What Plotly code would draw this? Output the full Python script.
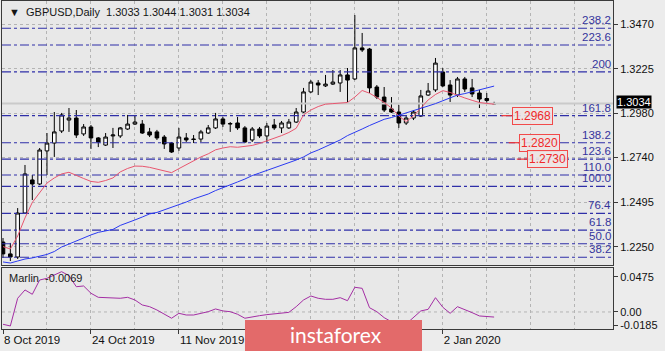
import plotly.graph_objects as go
import pandas as pd

# ---------------- data ----------------
days = pd.bdate_range("2019-10-08", "2020-01-13")
dates = [d for d in days if d.strftime("%m-%d") not in ("12-25", "01-01")]

opens = [1.2276, 1.2211, 1.2194, 1.2435, 1.2616, 1.2594, 1.2775, 1.2818, 1.2884, 1.2944,
         1.2955, 1.2868, 1.2906, 1.2846, 1.2807, 1.2857, 1.2857, 1.2895, 1.2922, 1.2922,
         1.2879, 1.2879, 1.2851, 1.2818, 1.2791, 1.2846, 1.2840, 1.2840, 1.2873, 1.2901,
         1.2950, 1.2922, 1.2928, 1.2901, 1.2835, 1.2895, 1.2857, 1.2917, 1.2901, 1.2901,
         1.2933, 1.2988, 1.3098, 1.3147, 1.3131, 1.3141, 1.3147, 1.3191, 1.3169, 1.3339,
         1.3333, 1.3125, 1.3070, 1.3005, 1.2988, 1.2928, 1.2955, 1.2966, 1.3081, 1.3109,
         1.3207, 1.3136, 1.3081, 1.3169, 1.3120, 1.3092, 1.3062, 1.3033]
highs = [1.2298, 1.2271, 1.2462, 1.2698, 1.2643, 1.2791, 1.2873, 1.2988, 1.2983, 1.3010,
         1.2999, 1.2922, 1.2917, 1.2851, 1.2873, 1.2901, 1.2906, 1.2972, 1.2972, 1.2944,
         1.2901, 1.2890, 1.2862, 1.2824, 1.2901, 1.2873, 1.2862, 1.2890, 1.2917, 1.2983,
         1.2961, 1.2933, 1.2961, 1.2911, 1.2906, 1.2906, 1.2928, 1.2950, 1.2939, 1.2950,
         1.3010, 1.3120, 1.3163, 1.3163, 1.3191, 1.3218, 1.3218, 1.3229, 1.3519, 1.3421,
         1.3339, 1.3136, 1.3125, 1.3070, 1.3026, 1.2966, 1.2999, 1.3109, 1.3147, 1.3284,
         1.3229, 1.3163, 1.3180, 1.3180, 1.3169, 1.3109, 1.3092, 1.3044]
lows = [1.2189, 1.2172, 1.2183, 1.2430, 1.2506, 1.2588, 1.2643, 1.2742, 1.2873, 1.2879,
        1.2846, 1.2857, 1.2786, 1.2796, 1.2802, 1.2791, 1.2846, 1.2890, 1.2917, 1.2868,
        1.2851, 1.2835, 1.2786, 1.2764, 1.2775, 1.2824, 1.2818, 1.2824, 1.2868, 1.2895,
        1.2906, 1.2879, 1.2890, 1.2818, 1.2824, 1.2846, 1.2824, 1.2890, 1.2873, 1.2895,
        1.2928, 1.2983, 1.3092, 1.3081, 1.3125, 1.3136, 1.3098, 1.3043, 1.3163, 1.3317,
        1.3092, 1.3059, 1.2988, 1.2983, 1.2901, 1.2917, 1.2944, 1.2961, 1.3076, 1.3098,
        1.3125, 1.3043, 1.3070, 1.3098, 1.3070, 1.3010, 1.3037, 1.3031]
closes = [1.2211, 1.2194, 1.2435, 1.2649, 1.2594, 1.2780, 1.2818, 1.2879, 1.2972, 1.2955,
          1.2862, 1.2906, 1.2846, 1.2824, 1.2851, 1.2862, 1.2901, 1.2922, 1.2933, 1.2873,
          1.2862, 1.2846, 1.2813, 1.2769, 1.2851, 1.2835, 1.2838, 1.2879, 1.2901, 1.2950,
          1.2922, 1.2925, 1.2901, 1.2824, 1.2895, 1.2857, 1.2911, 1.2901, 1.2928, 1.2933,
          1.2988, 1.3098, 1.3152, 1.3136, 1.3141, 1.3152, 1.3191, 1.3163, 1.3339, 1.3328,
          1.3120, 1.3070, 1.2999, 1.2988, 1.2928, 1.2955, 1.2988, 1.3076, 1.3103, 1.3256,
          1.3131, 1.3081, 1.3169, 1.3114, 1.3087, 1.3059, 1.3051, 1.3034]

ma_fast = [1.2251, 1.2238, 1.2309, 1.2408, 1.2493, 1.2547, 1.2599, 1.2627, 1.2649, 1.2658,
           1.2643, 1.2624, 1.2608, 1.2603, 1.2613, 1.2627, 1.2660, 1.2679, 1.2692, 1.2691,
           1.2685, 1.2676, 1.2665, 1.2656, 1.2678, 1.2700, 1.2722, 1.2742, 1.2759, 1.2781,
           1.2791, 1.2798, 1.2795, 1.2798, 1.2805, 1.2816, 1.2829, 1.2843, 1.2859, 1.2876,
           1.2899, 1.2972, 1.2999, 1.3018, 1.3031, 1.3034, 1.3037, 1.3040, 1.3070, 1.3106,
           1.3091, 1.3068, 1.3040, 1.3010, 1.2966, 1.2936, 1.2966, 1.3013, 1.3054, 1.3084,
           1.3105, 1.3095, 1.3079, 1.3065, 1.3052, 1.3040, 1.3035, 1.3031]
ma_slow = [1.2167, 1.2161, 1.2172, 1.2183, 1.2189, 1.2200, 1.2208, 1.2224, 1.2249, 1.2265,
           1.2283, 1.2298, 1.2315, 1.2329, 1.2335, 1.2345, 1.2367, 1.2380, 1.2397, 1.2413,
           1.2430, 1.2438, 1.2452, 1.2465, 1.2479, 1.2495, 1.2512, 1.2525, 1.2539, 1.2558,
           1.2575, 1.2588, 1.2605, 1.2621, 1.2640, 1.2654, 1.2668, 1.2682, 1.2695, 1.2709,
           1.2725, 1.2742, 1.2764, 1.2780, 1.2797, 1.2816, 1.2835, 1.2859, 1.2879, 1.2895,
           1.2914, 1.2931, 1.2948, 1.2958, 1.2970, 1.2983, 1.2994, 1.3005, 1.3021, 1.3034,
           1.3051, 1.3067, 1.3081, 1.3089, 1.3100, 1.3111, 1.3122, 1.3130]
marlin = [-0.0167, -0.0190, 0.0186, 0.0299, 0.0240, 0.0434, 0.0457, 0.0502, 0.0547, 0.0493,
          0.0343, 0.0353, 0.0254, 0.0199, 0.0194, 0.0186, 0.0186, 0.0199, 0.0163, 0.0095,
          0.0072, 0.0027, -0.0031, -0.0085, -0.0018, -0.0041, -0.0041, -0.0018, 0.0004, 0.0041,
          0.0014, 0.0004, -0.0031, -0.0085, -0.0064, -0.0050, -0.0036, -0.0027, -0.0023, -0.0005,
          0.0072, 0.0163, 0.0217, 0.0186, 0.0172, 0.0172, 0.0194, 0.0153, 0.0335, 0.0321,
          0.0058, 0.0004, -0.0077, -0.0136, -0.0190, -0.0163, -0.0081, 0.0014, 0.0036, 0.0194,
          0.0064, -0.0018, 0.0072, 0.0036, -0.0009, -0.0054, -0.0058, -0.0069]

fib_labels = ["38.2", "50.0", "61.8", "76.4", "100.0", "110.0", "123.6", "138.2", "161.8", "200", "223.6", "238.2"]
fib_prices = [1.2193, 1.2267, 1.2341, 1.2433, 1.2581, 1.2643, 1.2730, 1.2820, 1.2968, 1.3208, 1.3355, 1.3447]

target_prices = [1.2968, 1.2820, 1.2730]
price_ticks = [1.2250, 1.2495, 1.2740, 1.2980, 1.3225, 1.3470]
price_ticktext = ["1.2250", "1.2495", "1.2740", "1.2980", "1.3225", "1.3470"]
osc_ticks = [0.0475, 0.0, -0.0185]
osc_ticktext = ["0.0475", "0.00", "-0.0185"]
last_price = closes[-1]

# ---------------- figure ----------------
x = list(range(len(opens)))
FONT = "Liberation Sans, Arial, sans-serif"
GRID = "#b4b4b4"
FRAME = "#3a3a3a"
FIBC = "#2f2fa8"
xr = [-0.136, 83.22]

fig = go.Figure()

# fib levels as horizontal traces spanning the whole axis range
for lab, fp in zip(fib_labels, fib_prices):
    fig.add_trace(go.Scatter(x=xr, y=[fp, fp], mode="lines",
                             line=dict(color=FIBC, width=1.1, dash="dashdot"),
                             xaxis="x", yaxis="y", hoverinfo="skip"))
# current price line
fig.add_trace(go.Scatter(x=xr, y=[closes[-1]] * 2, mode="lines",
                         line=dict(color="#cacaca", width=2), xaxis="x", yaxis="y", hoverinfo="skip"))
# oscillator zero line
fig.add_trace(go.Scatter(x=xr, y=[0, 0], mode="lines",
                         line=dict(color=GRID, width=1, dash="dot"), xaxis="x2", yaxis="y2", hoverinfo="skip"))

fig.add_trace(go.Candlestick(
    x=x, open=opens, high=highs, low=lows, close=closes,
    increasing=dict(line=dict(color="black", width=1), fillcolor="white"),
    decreasing=dict(line=dict(color="black", width=1), fillcolor="black"),
    whiskerwidth=0, xaxis="x", yaxis="y", hoverinfo="skip"))
fig.add_trace(go.Scatter(x=x, y=ma_fast, mode="lines",
                         line=dict(color="#e8566f", width=1), xaxis="x", yaxis="y"))
fig.add_trace(go.Scatter(x=x, y=ma_slow, mode="lines",
                         line=dict(color="#2a3af2", width=1), xaxis="x", yaxis="y"))
fig.add_trace(go.Scatter(x=x, y=marlin, mode="lines",
                         line=dict(color="#a42ea4", width=1), xaxis="x2", yaxis="y2"))

# red target label leaders
label_x = [69.4, 70.4, 71.5]
for tp, lx in zip(target_prices, label_x):
    fig.add_trace(go.Scatter(x=[lx - 1.4, lx], y=[tp, tp], mode="lines",
                             line=dict(color="#f03535", width=1.2), xaxis="x", yaxis="y"))

annotations = []
for lab, fp in zip(fib_labels, fib_prices):
    annotations.append(dict(xref="x domain", x=1, xanchor="right", xshift=-1,
                            yref="y", y=fp, yanchor="bottom", yshift=1,
                            text=lab, showarrow=False, borderpad=0,
                            font=dict(family=FONT, size=11.5, color="#34349c")))

for tp, lx in zip(target_prices, label_x):
    annotations.append(dict(xref="x", x=lx, xanchor="left", yref="y", y=tp, yanchor="middle",
                            text=f"{tp:.4f}", showarrow=False,
                            font=dict(family=FONT, size=12, color="#f02a2a"),
                            bordercolor="#f24a4a", borderwidth=1, borderpad=1,
                            bgcolor="rgba(236,228,228,0.9)"))

annotations.append(dict(xref="x domain", x=1, xanchor="left", xshift=3, yref="y", y=last_price,
                        yanchor="middle", yshift=2, text=f"{last_price:.4f}", showarrow=False,
                        font=dict(family=FONT, size=11, color="white"),
                        bgcolor="black", borderpad=0))

annotations.append(dict(xref="paper", x=0.008, xanchor="left", yref="paper", y=0.966, yanchor="middle",
                        text="▼  GBPUSD,Daily  %.4f %.4f %.4f %.4f" % (opens[-1], highs[-1], lows[-1], closes[-1]),
                        showarrow=False, font=dict(family=FONT, size=11, color="#151515")))
annotations.append(dict(xref="paper", x=0.008, xanchor="left", yref="paper", y=0.155, yanchor="middle",
                        text="Marlin  %.4f" % marlin[-1], showarrow=False,
                        font=dict(family=FONT, size=11, color="#202020")))

# watermark
shapes = [dict(type="rect", xref="paper", yref="paper", x0=0.3977, x1=0.6874, y0=-0.075, y1=0.0274,
               fillcolor="#e36a6a", line=dict(width=0), layer="above")]
annotations.append(dict(xref="paper", x=0.5466, xanchor="center", yref="paper", y=-0.016, yanchor="middle",
                        text="instaforex", showarrow=False,
                        font=dict(family="Lato, Noto Sans, sans-serif", size=21, color="white")))

tick_idx = [0, 12, 24, 60]

fig.update_layout(
    width=665, height=351,
    margin=dict(l=2, r=52, t=1, b=22),
    paper_bgcolor="#ececec", plot_bgcolor="#e8e8e8",
    showlegend=False, hovermode=False,
    font=dict(family=FONT, size=11, color="#111111"),
    xaxis=dict(domain=[0, 1], anchor="y", range=xr, rangeslider=dict(visible=False),
               tickvals=list(range(0, 84, 6)), showticklabels=False, ticks="",
               showgrid=True, gridcolor=GRID, griddash="dot", gridwidth=1,
               showline=True, mirror=True, linecolor=FRAME, linewidth=1, zeroline=False),
    yaxis=dict(domain=[0.195, 1], anchor="x", side="right", range=[1.2150, 1.3596],
               tickvals=price_ticks, ticktext=price_ticktext, ticks="outside", ticklen=4,
               tickcolor=FRAME, showgrid=True, gridcolor=GRID, griddash="dot",
               showline=True, mirror=True, linecolor=FRAME, linewidth=1, zeroline=False,
               tickfont=dict(family=FONT, size=11, color="#111111")),
    xaxis2=dict(domain=[0, 1], anchor="y2", range=xr,
                tickvals=tick_idx,
                ticktext=[f"{dates[i].day} {dates[i].strftime('%b %Y')}" for i in tick_idx],
                ticks="outside", ticklen=4, tickcolor=FRAME,
                ticklabelposition="outside right",
                tickfont=dict(family=FONT, size=11.5, color="#111111"),
                showgrid=False,
                minor=dict(tick0=0, dtick=6, showgrid=True, gridcolor=GRID, griddash="dot", ticks=""),
                showline=True, mirror=True, linecolor=FRAME, linewidth=1, zeroline=False),
    yaxis2=dict(domain=[0, 0.186], anchor="x2", side="right", range=[-0.0231, 0.0597],
                tickvals=osc_ticks, ticktext=osc_ticktext, ticks="outside", ticklen=4,
                tickcolor=FRAME, showgrid=False,
                showline=True, mirror=True, linecolor=FRAME, linewidth=1, zeroline=False,
                tickfont=dict(family=FONT, size=11, color="#111111")),
    shapes=shapes, annotations=annotations,
)

fig.write_html("out.html")
